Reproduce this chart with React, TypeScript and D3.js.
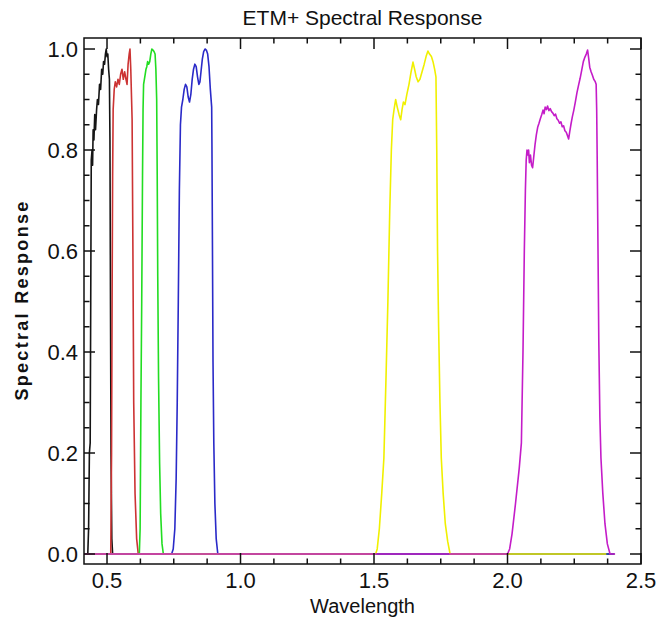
import React from "react";
import * as d3 from "d3";

type Pt = [number, number];

// Band 1 (blue, black line)
const band1: Pt[] = [
  [0.414, 0], [0.428, 0], [0.431, 0.05], [0.434, 0.2], [0.437, 0.22], [0.439, 0.5], [0.441, 0.78],
  [0.444, 0.8], [0.446, 0.77], [0.448, 0.84], [0.451, 0.82], [0.454, 0.87], [0.457, 0.84],
  [0.461, 0.88], [0.464, 0.9], [0.468, 0.89], [0.472, 0.93], [0.476, 0.92], [0.480, 0.96],
  [0.484, 0.95], [0.487, 0.975], [0.491, 0.97], [0.494, 0.99], [0.497, 1.0], [0.500, 0.985],
  [0.503, 0.99], [0.506, 0.96], [0.509, 0.94], [0.511, 0.82], [0.513, 0.5], [0.515, 0.2],
  [0.518, 0.03], [0.521, 0], [2.4, 0],
];
// Band 2 (green, red line)
const band2: Pt[] = [
  [0.414, 0], [0.514, 0], [0.517, 0.2], [0.519, 0.5], [0.521, 0.75], [0.523, 0.88], [0.527, 0.92],
  [0.531, 0.935], [0.536, 0.925], [0.541, 0.94], [0.546, 0.93], [0.551, 0.95], [0.556, 0.96],
  [0.561, 0.94], [0.566, 0.955], [0.571, 0.94], [0.575, 0.93], [0.579, 0.97], [0.583, 0.99],
  [0.586, 1.0], [0.589, 0.96], [0.592, 0.9], [0.594, 0.86], [0.597, 0.6], [0.600, 0.3],
  [0.605, 0.12], [0.611, 0.03], [0.617, 0], [2.4, 0],
];
// Band 3 (red, green line)
const band3: Pt[] = [
  [0.414, 0], [0.621, 0], [0.624, 0.05], [0.627, 0.3], [0.630, 0.5], [0.633, 0.75], [0.635, 0.88],
  [0.637, 0.93], [0.640, 0.94], [0.643, 0.95], [0.646, 0.96], [0.649, 0.965], [0.652, 0.975],
  [0.656, 0.97], [0.660, 0.975], [0.664, 0.99], [0.668, 1.0], [0.672, 0.998], [0.676, 0.995],
  [0.680, 0.99], [0.683, 0.96], [0.686, 0.9], [0.688, 0.75], [0.690, 0.55], [0.693, 0.35],
  [0.697, 0.18], [0.701, 0.08], [0.706, 0.02], [0.711, 0], [2.4, 0],
];
// Band 4 (NIR, blue line)
const band4: Pt[] = [
  [0.414, 0], [0.742, 0], [0.748, 0.01], [0.754, 0.05], [0.759, 0.15], [0.763, 0.3], [0.767, 0.5],
  [0.771, 0.72], [0.775, 0.85], [0.779, 0.885], [0.784, 0.9], [0.789, 0.92], [0.794, 0.93],
  [0.799, 0.925], [0.804, 0.905], [0.809, 0.895], [0.814, 0.91], [0.819, 0.94], [0.824, 0.96],
  [0.829, 0.97], [0.834, 0.965], [0.839, 0.945], [0.844, 0.93], [0.848, 0.935], [0.852, 0.955],
  [0.857, 0.98], [0.862, 0.995], [0.867, 1.0], [0.872, 0.998], [0.877, 0.99], [0.882, 0.965],
  [0.887, 0.92], [0.892, 0.885], [0.893, 0.81], [0.895, 0.6], [0.897, 0.38], [0.900, 0.22],
  [0.904, 0.1], [0.909, 0.03], [0.915, 0], [2.4, 0],
];
// Band 5 (SWIR1, yellow line)
const band5: Pt[] = [
  [0.414, 0], [1.506, 0], [1.512, 0.01], [1.520, 0.05], [1.529, 0.12], [1.537, 0.19],
  [1.545, 0.35], [1.552, 0.5], [1.559, 0.68], [1.565, 0.8], [1.570, 0.86], [1.575, 0.88],
  [1.581, 0.9], [1.587, 0.885], [1.594, 0.87], [1.600, 0.86], [1.605, 0.88], [1.610, 0.895],
  [1.616, 0.89], [1.623, 0.91], [1.631, 0.93], [1.639, 0.955], [1.646, 0.974], [1.652, 0.96],
  [1.658, 0.945], [1.665, 0.935], [1.672, 0.94], [1.680, 0.955], [1.688, 0.97], [1.695, 0.985],
  [1.702, 0.996], [1.708, 0.99], [1.715, 0.985], [1.721, 0.975], [1.727, 0.96], [1.732, 0.945],
  [1.735, 0.8], [1.738, 0.6], [1.742, 0.45], [1.747, 0.3], [1.752, 0.19], [1.759, 0.12],
  [1.767, 0.06], [1.776, 0.025], [1.785, 0], [2.37, 0],
];
// Band 7 (SWIR2, magenta line)
const band7: Pt[] = [
  [0.414, 0], [2.000, 0], [2.008, 0.01], [2.017, 0.04], [2.030, 0.1], [2.044, 0.17],
  [2.052, 0.22], [2.058, 0.4], [2.063, 0.6], [2.067, 0.72], [2.070, 0.78], [2.073, 0.8],
  [2.076, 0.79], [2.079, 0.8], [2.082, 0.775], [2.086, 0.79], [2.090, 0.77], [2.094, 0.765],
  [2.098, 0.785], [2.103, 0.81], [2.108, 0.83], [2.113, 0.845], [2.118, 0.853], [2.123, 0.862],
  [2.128, 0.87], [2.133, 0.879], [2.137, 0.872], [2.141, 0.885], [2.146, 0.88], [2.150, 0.887],
  [2.155, 0.878], [2.160, 0.882], [2.165, 0.876], [2.170, 0.873], [2.175, 0.868], [2.180, 0.871],
  [2.185, 0.862], [2.190, 0.859], [2.195, 0.853], [2.200, 0.856], [2.205, 0.846], [2.210, 0.848],
  [2.215, 0.838], [2.220, 0.835], [2.225, 0.828], [2.229, 0.822], [2.233, 0.836], [2.238, 0.852],
  [2.243, 0.866], [2.248, 0.878], [2.254, 0.895], [2.260, 0.913], [2.266, 0.928], [2.272, 0.942],
  [2.278, 0.958], [2.284, 0.975], [2.290, 0.984], [2.295, 0.99], [2.300, 0.998], [2.304, 0.982],
  [2.308, 0.964], [2.313, 0.955], [2.318, 0.948], [2.323, 0.94], [2.328, 0.936], [2.332, 0.93],
  [2.334, 0.88], [2.336, 0.78], [2.339, 0.6], [2.342, 0.42], [2.346, 0.27], [2.350, 0.19],
  [2.357, 0.12], [2.365, 0.06], [2.374, 0.02], [2.384, 0], [2.403, 0],
];

const series = [
  { name: "Band 1", data: band1, color: "#151515" },
  { name: "Band 2", data: band2, color: "#cc3333" },
  { name: "Band 3", data: band3, color: "#22dd22" },
  { name: "Band 4", data: band4, color: "#2a2ac8" },
  { name: "Band 5", data: band5, color: "#f0f000" },
  { name: "Band 7", data: band7, color: "#c41cc8" },
];

const xMajorTicks = [0.5, 1.0, 1.5, 2.0, 2.5];
const xTickLabels = ["0.5", "1.0", "1.5", "2.0", "2.5"];
const yMajorTicks = [0.0, 0.2, 0.4, 0.6, 0.8, 1.0];
const yTickLabels = ["0.0", "0.2", "0.4", "0.6", "0.8", "1.0"];
const xMinorStep = 0.125;
const yMinorStep = 0.05;

const TITLE = "ETM+ Spectral Response";
const X_LABEL = "Wavelength";
const Y_LABEL = "Spectral Response";

export default function App() {
  const W = 667, H = 623;
  const left = 84, right = 641, top = 38, bottom = 564;
  const x = d3.scaleLinear().domain([0.4138, 2.5]).range([left, right]);
  const y = d3.scaleLinear().domain([-0.0198, 1.0218]).range([bottom, top]);
  const line = d3.line<Pt>().x((d) => x(d[0])).y((d) => y(d[1]));

  const xMinor = d3.range(0.5, 2.5 + 1e-9, xMinorStep).filter(
    (v) => !xMajorTicks.some((m) => Math.abs(m - v) < 1e-6)
  );
  const yMinor = d3.range(0, 1.0 + 1e-9, yMinorStep).filter(
    (v) => !yMajorTicks.some((m) => Math.abs(m - v) < 1e-6)
  );
  const maj = 11, min = 5.5;
  const labelFont = "'Liberation Sans Narrow', 'Arial Narrow', 'Liberation Sans', sans-serif";

  return (
    <svg
      width={W}
      height={H}
      style={{ position: "absolute", left: 0, top: 0, background: "#fff" }}
    >
      <rect x={0} y={0} width={W} height={H} fill="#fff" />
      <defs>
        <clipPath id="plotclip">
          <rect x={left} y={top} width={right - left} height={bottom - top} />
        </clipPath>
      </defs>
      <g clipPath="url(#plotclip)">
        {series.map((s) => (
          <path
            key={s.name}
            d={line(s.data) || ""}
            fill="none"
            stroke={s.color}
            strokeWidth={1.6}
            strokeLinejoin="round"
          />
        ))}
      </g>
      <rect
        x={left}
        y={top}
        width={right - left}
        height={bottom - top}
        fill="none"
        stroke="#111"
        strokeWidth={1.5}
      />
      {xMajorTicks.map((v) => (
        <g key={"xm" + v}>
          <line x1={x(v)} x2={x(v)} y1={bottom} y2={bottom - maj} stroke="#111" strokeWidth={1.5} />
          <line x1={x(v)} x2={x(v)} y1={top} y2={top + maj} stroke="#111" strokeWidth={1.5} />
        </g>
      ))}
      {xMinor.map((v) => (
        <g key={"xn" + v}>
          <line x1={x(v)} x2={x(v)} y1={bottom} y2={bottom - min} stroke="#111" strokeWidth={1.5} />
          <line x1={x(v)} x2={x(v)} y1={top} y2={top + min} stroke="#111" strokeWidth={1.5} />
        </g>
      ))}
      {yMajorTicks.map((v) => (
        <g key={"ym" + v}>
          <line x1={left} x2={left + maj} y1={y(v)} y2={y(v)} stroke="#111" strokeWidth={1.5} />
          <line x1={right} x2={right - maj} y1={y(v)} y2={y(v)} stroke="#111" strokeWidth={1.5} />
        </g>
      ))}
      {yMinor.map((v) => (
        <g key={"yn" + v}>
          <line x1={left} x2={left + min} y1={y(v)} y2={y(v)} stroke="#111" strokeWidth={1.5} />
          <line x1={right} x2={right - min} y1={y(v)} y2={y(v)} stroke="#111" strokeWidth={1.5} />
        </g>
      ))}
      {xMajorTicks.map((v, i) => (
        <text
          key={"xl" + v}
          x={x(v)}
          y={588}
          textAnchor="middle"
          fontFamily={labelFont}
          fontSize={22}
          fill="#111"
        >
          {xTickLabels[i]}
        </text>
      ))}
      {yMajorTicks.map((v, i) => (
        <text
          key={"yl" + v}
          x={78}
          y={y(v) + 8}
          textAnchor="end"
          fontFamily={labelFont}
          fontSize={22}
          fill="#111"
        >
          {yTickLabels[i]}
        </text>
      ))}
      <text
        x={(left + right) / 2}
        y={25}
        textAnchor="middle"
        fontFamily="'Liberation Sans', Arial, sans-serif"
        fontSize={21}
        fill="#111"
      >
        {TITLE}
      </text>
      <text
        x={(left + right) / 2}
        y={613}
        textAnchor="middle"
        fontFamily={labelFont}
        fontSize={20}
        fill="#111"
      >
        {X_LABEL}
      </text>
      <text
        transform={`translate(28, 300) rotate(-90)`}
        textAnchor="middle"
        fontFamily="'Liberation Sans', Arial, sans-serif"
        fontWeight="bold"
        fontSize={18}
        letterSpacing={2.3}
        fill="#111"
      >
        {Y_LABEL}
      </text>
    </svg>
  );
}
